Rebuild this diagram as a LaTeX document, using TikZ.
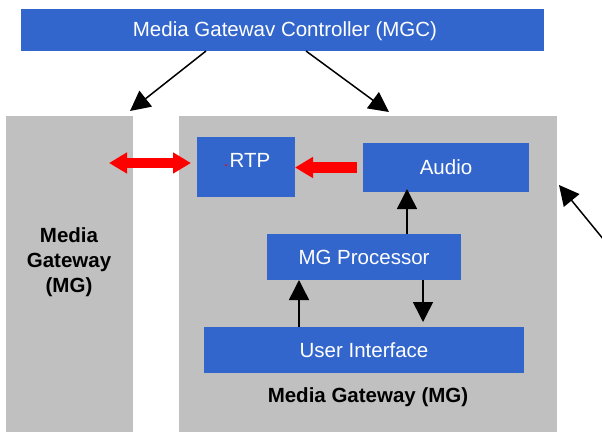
\documentclass[tikz,border=0pt]{standalone}
\usepackage{fontspec}
\setmainfont{Liberation Sans}
\usetikzlibrary{arrows.meta,calc}
\definecolor{boxblue}{HTML}{3366CC}
\definecolor{gwgray}{HTML}{C0C0C0}
\definecolor{linkred}{HTML}{FF0000}
\begin{document}
\begin{tikzpicture}[x=1pt,y=-1pt,
  every node/.style={inner sep=0pt,outer sep=0pt,font=\fontsize{20.5}{25}\selectfont},
  gwbox/.style={rectangle,fill=gwgray},
  bluebox/.style={rectangle,fill=boxblue,text=white},
  gwlabel/.style={font=\fontsize{20.5}{25}\selectfont\bfseries,align=center,text=black},
  ctrlarrow/.style={draw=black,line width=1.5pt,-{Triangle[width=20pt,length=20pt]}},
  mediaarrow/.style={draw=linkred,line width=10.5pt,-{Triangle[width=20pt,length=18pt]}},
  mediaboth/.style={draw=linkred,line width=10.5pt,{Triangle[width=20pt,length=18pt]}-{Triangle[width=20pt,length=18pt]}}]
\useasboundingbox (0,0) rectangle (602,432);
\fill[white] (0,0) rectangle (602,432);

% gateways
\node[gwbox,minimum width=127pt,minimum height=316pt] (lgw) at (69.5,274) {};
\node[gwbox,minimum width=378pt,minimum height=316pt] (rgw) at (368,274) {};
\node[gwlabel] (lgwlabel) at (69,262) {Media\\Gateway\\(MG)};
\node[gwlabel] (rgwlabel) at (368,397) {Media Gateway (MG)};

% controller
\node[bluebox,minimum width=523pt,minimum height=42pt] (mgc) at (282.5,30) {};
\node[text=white] (mgclabel) at (285,31) {Media Gatewav Controller (MGC)};

% blocks inside the media gateway
\node[bluebox,minimum width=98pt,minimum height=60pt] (rtp) at (246,167) {};
\node[text=white] (rtplabel) at (250,160) {RTP};
\fill[linkred] (226,165) circle (1pt);
\node[bluebox,minimum width=166pt,minimum height=49pt] (audio) at (446,167.5) {Audio};
\node[bluebox,minimum width=194pt,minimum height=46pt] (proc) at (364,257) {MG Processor};
\node[bluebox,minimum width=320pt,minimum height=46pt] (ui) at (364,350) {User Interface};

\coordinate (ext) at (604,240);

% control connectors
\draw[ctrlarrow] ([xshift=-76.5pt]mgc.south) -- ([shift={(-3pt,5pt)}]lgw.north east);
\draw[ctrlarrow] ([xshift=23.5pt]mgc.south) -- ([shift={(21pt,4pt)}]rgw.north);
\draw[ctrlarrow] (ext) -- ([shift={(2pt,-69pt)}]rgw.north east);
\draw[ctrlarrow] ([xshift=43pt]proc.north) -- ([shift={(-39pt,3pt)}]audio.south);
\draw[ctrlarrow] ([xshift=-65pt]ui.north) -- ([xshift=-65pt]proc.south);
\draw[ctrlarrow] ([xshift=59pt]proc.south) -- ([shift={(59pt,5pt)}]ui.north);

% media connectors
\draw[mediaboth] ($(lgw.east |- rtp.west)+(-24pt,4pt)$) -- ([shift={(-6pt,4pt)}]rtp.west);
\draw[mediaarrow] ([xshift=-6pt]audio.west) -- (audio.west -| rtp.east);
\end{tikzpicture}
\end{document}
